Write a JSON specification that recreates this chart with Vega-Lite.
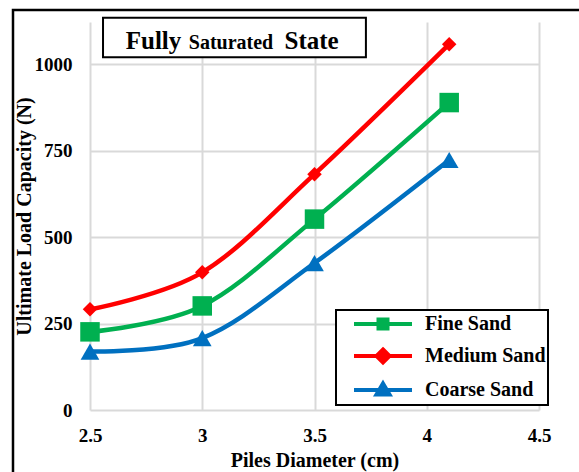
{
  "$schema": "https://vega.github.io/schema/vega-lite/v6.json",
  "width": 449,
  "height": 388,
  "autosize": {"type": "none"},
  "padding": {"left": 90, "top": 22, "right": 40, "bottom": 62},
  "background": "white",
  "data": {"values": [{}]},
  "config": {
    "view": {"stroke": null},
    "font": "Liberation Serif",
    "axis": {
      "labelFont": "Liberation Serif", "labelFontWeight": "bold", "labelFontSize": 19, "labelColor": "#000000",
      "titleFont": "Liberation Serif", "titleFontWeight": "bold", "titleFontSize": 20, "titleColor": "#000000",
      "domain": false, "ticks": false, "grid": true, "gridColor": "#D9D9D9", "gridWidth": 2
    }
  },
  "datasets": {
    "caps": [
      {"d": 2.5, "cap": 226, "soil": "Fine Sand"},
      {"d": 3.0, "cap": 301, "soil": "Fine Sand"},
      {"d": 3.5, "cap": 552, "soil": "Fine Sand"},
      {"d": 4.1, "cap": 889, "soil": "Fine Sand"},
      {"d": 2.5, "cap": 291, "soil": "Medium Sand"},
      {"d": 3.0, "cap": 398, "soil": "Medium Sand"},
      {"d": 3.5, "cap": 682, "soil": "Medium Sand"},
      {"d": 4.1, "cap": 1058, "soil": "Medium Sand"},
      {"d": 2.5, "cap": 169, "soil": "Coarse Sand"},
      {"d": 3.0, "cap": 208, "soil": "Coarse Sand"},
      {"d": 3.5, "cap": 425, "soil": "Coarse Sand"},
      {"d": 4.1, "cap": 723, "soil": "Coarse Sand"}
    ]
  },
  "layer": [
    {
      "data": {"name": "caps"},
      "mark": {"type": "line", "interpolate": "cardinal", "strokeWidth": 4.5},
      "encoding": {
        "x": {"field": "d", "type": "quantitative", "title": "Piles Diameter (cm)",
              "scale": {"domain": [2.5, 4.5], "nice": false, "zero": false},
              "axis": {"values": [2.5, 3, 3.5, 4, 4.5], "format": ".1~f", "labelPadding": 16, "titlePadding": 5, "labelFlush": false}},
        "y": {"field": "cap", "type": "quantitative", "title": "Ultimate Load Capacity (N)",
              "scale": {"domain": [0, 1122], "nice": false},
              "axis": {"values": [0, 250, 500, 750, 1000], "format": "d", "labelPadding": 18, "titlePadding": 0}},
        "color": {
          "field": "soil", "type": "nominal",
          "scale": {"domain": ["Fine Sand", "Medium Sand", "Coarse Sand"], "range": ["#00B050", "#FF0000", "#0070C0"]},
          "legend": {
            "title": null, "orient": "none", "legendX": 246, "legendY": 288,
            "padding": 2, "strokeColor": "#000000", "fillColor": "white",
            "labelFont": "Liberation Serif", "labelFontWeight": "bold", "labelFontSize": 20, "labelColor": "#000000",
            "symbolSize": 400, "symbolOffset": 33, "labelOffset": 30, "rowPadding": 4, "symbolStrokeWidth": 4,
            "encode": {
              "legend": {"update": {"strokeWidth": {"value": 2}}},
              "symbols": {"update": {
                "shape": {"signal": "datum.value == 'Fine Sand' ? 'M-2.9,0H2.9M-0.45,-0.45H0.45V0.45H-0.45Z' : datum.value == 'Medium Sand' ? 'M-2.9,0H2.9M0,-0.65L0.65,0L0,0.65L-0.65,0Z' : 'M-2.9,0H2.9M0,-0.65L0.65,0.45H-0.65Z'"},
                "fill": {"signal": "scale('color', datum.value)"},
                "stroke": {"signal": "scale('color', datum.value)"},
                "strokeWidth": {"value": 4},
                "opacity": {"value": 1}
              }}
            }
          }
        }
      }
    },
    {
      "data": {"name": "caps"},
      "transform": [{"filter": "datum.soil == 'Fine Sand'"}],
      "mark": {"type": "point", "filled": true, "opacity": 1, "shape": "square", "size": 380, "color": "#00B050"},
      "encoding": {
        "x": {"field": "d", "type": "quantitative"},
        "y": {"field": "cap", "type": "quantitative"}
      }
    },
    {
      "data": {"name": "caps"},
      "transform": [{"filter": "datum.soil == 'Medium Sand'"}],
      "mark": {"type": "point", "filled": true, "opacity": 1, "shape": "diamond", "size": 210, "color": "#FF0000"},
      "encoding": {
        "x": {"field": "d", "type": "quantitative"},
        "y": {"field": "cap", "type": "quantitative"}
      }
    },
    {
      "data": {"name": "caps"},
      "transform": [{"filter": "datum.soil == 'Coarse Sand'"}],
      "mark": {"type": "point", "filled": true, "opacity": 1, "shape": "triangle-up", "size": 350, "color": "#0070C0"},
      "encoding": {
        "x": {"field": "d", "type": "quantitative"},
        "y": {"field": "cap", "type": "quantitative"}
      }
    },
    {
      "mark": {"type": "rect", "filled": false, "stroke": "#000000", "strokeWidth": 2.5, "clip": false},
      "encoding": {
        "x": {"datum": 2.157, "type": "quantitative"},
        "x2": {"datum": 6.5},
        "y": {"datum": -500, "type": "quantitative"},
        "y2": {"datum": 1157}
      }
    },
    {
      "mark": {"type": "rect", "fill": "white", "stroke": "#000000", "strokeWidth": 2, "clip": false},
      "encoding": {
        "x": {"datum": 2.558, "type": "quantitative"},
        "x2": {"datum": 3.729},
        "y": {"datum": 1020, "type": "quantitative"},
        "y2": {"datum": 1134}
      }
    },
    {
      "mark": {"type": "text", "font": "Liberation Serif", "fontWeight": "bold", "fontSize": 25, "baseline": "alphabetic", "align": "center", "color": "#000000"},
      "encoding": {"x": {"datum": 2.783, "type": "quantitative"}, "y": {"datum": 1044, "type": "quantitative"}, "text": {"value": "Fully"}}
    },
    {
      "mark": {"type": "text", "font": "Liberation Serif", "fontWeight": "bold", "fontSize": 20, "baseline": "alphabetic", "align": "center", "color": "#000000"},
      "encoding": {"x": {"datum": 3.128, "type": "quantitative"}, "y": {"datum": 1044, "type": "quantitative"}, "text": {"value": "Saturated"}}
    },
    {
      "mark": {"type": "text", "font": "Liberation Serif", "fontWeight": "bold", "fontSize": 25, "baseline": "alphabetic", "align": "center", "color": "#000000"},
      "encoding": {"x": {"datum": 3.487, "type": "quantitative"}, "y": {"datum": 1044, "type": "quantitative"}, "text": {"value": "State"}}
    }
  ]
}
